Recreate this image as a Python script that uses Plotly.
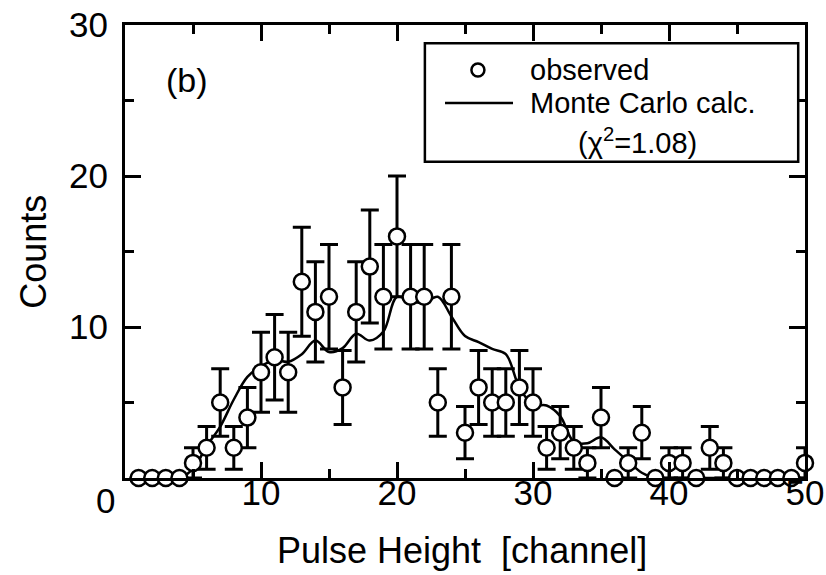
import numpy as np
import plotly.graph_objects as go

# Observed pulse-height spectrum (counts per channel)
channel = list(range(1, 51))
counts = [0, 0, 0, 0, 1, 2, 5, 2, 4, 7,
          8, 7, 13, 11, 12, 6, 11, 14, 12, 16,
          12, 12, 5, 12, 3, 6, 5, 5, 6, 5,
          2, 3, 2, 1, 4, 0, 1, 3, 0, 1,
          1, 0, 2, 1, 0, 0, 0, 0, 0, 1]

# Monte Carlo calculation, one value per channel
mc_counts = [0, 0, 0, 0, 0.6, 2.1, 3.4, 5.2, 6.7, 7.4,
             7.8, 7.7, 8.2, 9.1, 8.35, 8.6, 9.55, 9.1, 9.7, 12.0,
             11.7, 11.6, 12.0, 10.7, 9.4, 9.0, 8.55, 8.2, 6.0, 4.85,
             4.8, 4.1, 2.4, 2.3, 2.7, 1.9, 1.1, 0.35, 0, 0,
             0, 0, 0, 0, 0, 0, 0, 0, 0, 0]

x_ticks = [10, 20, 30, 40, 50]
x_minor = [5, 15, 25, 35, 45]
y_ticks = [10, 20, 30]
y_minor = [5, 15, 25]

# Poisson errors; no bar for empty channels
err = [np.sqrt(c) if c > 0 else None for c in counts]

FONT = "Liberation Sans, Arial, sans-serif"

fig = go.Figure()

fig.add_trace(go.Scatter(
    x=channel, y=mc_counts, mode="lines",
    line=dict(color="black", width=2.5, shape="spline", smoothing=1.0),
    showlegend=False,
))

fig.add_trace(go.Scatter(
    x=channel, y=counts, mode="markers",
    marker=dict(symbol="circle", size=16, color="white",
                line=dict(color="black", width=2.5)),
    error_y=dict(type="data", array=err, visible=True,
                 color="black", thickness=3, width=9),
    cliponaxis=False,
    showlegend=False,
))

axis_common = dict(
    showline=True, linecolor="black", linewidth=3, mirror="ticks",
    ticks="inside", ticklen=16, tickwidth=3, tickcolor="black",
    showgrid=False, zeroline=False,
    tickfont=dict(family=FONT, size=35, color="black"),
    tickmode="array",
)

fig.update_xaxes(
    range=[0, 50], tickvals=x_ticks, ticklabelstandoff=-18,
    minor=dict(tickmode="array", tickvals=x_minor,
               ticks="inside", ticklen=9, tickwidth=3, tickcolor="black",
               showgrid=False),
    **axis_common,
)
fig.update_yaxes(
    range=[0, 30], tickvals=y_ticks, ticklabelstandoff=7,
    minor=dict(tickmode="array", tickvals=y_minor,
               ticks="inside", ticklen=9, tickwidth=3, tickcolor="black",
               showgrid=False),
    **axis_common,
)

# Legend box drawn in paper coordinates
shapes = [
    dict(type="rect", xref="paper", yref="paper",
         x0=0.441, x1=0.990, y0=0.698, y1=0.9596,
         line=dict(color="black", width=2.5), fillcolor="white", layer="above"),
    dict(type="circle", xref="paper", yref="paper",
         xsizemode="pixel", ysizemode="pixel",
         xanchor=0.519, yanchor=0.9007,
         x0=-6.5, x1=6.5, y0=-6.5, y1=6.5,
         line=dict(color="black", width=2.5), fillcolor="white", layer="above"),
    dict(type="line", xref="paper", yref="paper",
         x0=0.4706, x1=0.5706, y0=0.8278, y1=0.8278,
         line=dict(color="black", width=2.5), layer="above"),
]

annotations = [
    dict(text="observed", xref="paper", yref="paper", x=0.5926, y=0.9007,
         xanchor="left", yanchor="middle", showarrow=False,
         font=dict(family=FONT, size=29, color="black")),
    dict(text="Monte Carlo calc.", xref="paper", yref="paper", x=0.5926, y=0.8278,
         xanchor="left", yanchor="middle", showarrow=False,
         font=dict(family=FONT, size=29, color="black")),
    dict(text="(\u03c7<sup>2</sup>=1.08)", xref="paper", yref="paper", x=0.753, y=0.745,
         xanchor="center", yanchor="middle", showarrow=False,
         font=dict(family=FONT, size=29, color="black")),
    dict(text="(b)", xref="paper", yref="paper", x=0.091, y=0.878,
         xanchor="center", yanchor="middle", showarrow=False,
         font=dict(family=FONT, size=34, color="black")),
    dict(text="0", xref="paper", yref="paper", x=-0.0294, y=-0.049,
         xanchor="center", yanchor="middle", showarrow=False,
         font=dict(family=FONT, size=35, color="black")),
    dict(text="Pulse Height  [channel]", xref="paper", yref="paper",
         x=0.495, y=-0.16, xanchor="center", yanchor="middle", showarrow=False,
         font=dict(family=FONT, size=36, color="black")),
    dict(text="Counts", xref="paper", yref="paper", textangle=-90,
         x=-0.135, y=0.5, xanchor="center", yanchor="middle", showarrow=False,
         font=dict(family=FONT, size=36, color="black")),
]

fig.update_layout(
    width=826, height=575,
    margin=dict(l=125, r=21, t=25, b=97, autoexpand=False),
    paper_bgcolor="white", plot_bgcolor="white",
    shapes=shapes, annotations=annotations,
    showlegend=False,
)

fig.write_html("out.html")
